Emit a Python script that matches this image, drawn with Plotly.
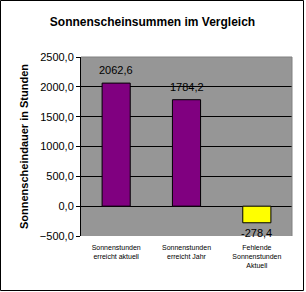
import plotly.graph_objects as go

categories = ["Sonnenstunden<br>erreicht aktuell", "Sonnenstunden<br>erreicht Jahr", "Fehlende<br>Sonnenstunden<br>Aktuell"]
values = [2062.6, 1784.2, -278.4]
colors = ["#800080", "#800080", "#FFFF00"]
value_labels = ["2062,6", "1784,2", "-278,4"]
tick_vals = [-500, 0, 500, 1000, 1500, 2000, 2500]

W, H = 306, 292
L, R, T, B = 81, 14, 57, 56
pw, ph = W - L - R, H - T - B

fig = go.Figure()
fig.add_trace(go.Bar(
    x=categories, y=values,
    marker=dict(color=colors, line=dict(color="#000000", width=1)),
    width=0.4,
))

for c, v, t in zip(categories, values, value_labels):
    fig.add_annotation(x=c, y=v, text=t, showarrow=False,
                       yshift=13 if v >= 0 else -10,
                       font=dict(family="Liberation Sans, Arial", size=11, color="#000000"))

# outer chart border
def px(x):
    return (x - L) / pw
def py(y):
    return (H - B - y) / ph
fig.add_shape(type="rect", xref="paper", yref="paper",
              x0=px(0.5), x1=px(303.5), y0=py(290.5), y1=py(0.5),
              line=dict(color="#000000", width=1), layer="below")
# grey plot-area border (top and right)
fig.add_shape(type="line", xref="paper", yref="paper", x0=0, x1=1, y0=1, y1=1,
              line=dict(color="#808080", width=1))
fig.add_shape(type="line", xref="paper", yref="paper", x0=1, x1=1, y0=0, y1=1,
              line=dict(color="#808080", width=1))

fig.update_layout(
    width=W, height=H,
    margin=dict(l=L, r=R, t=T, b=B),
    paper_bgcolor="#FFFFFF", plot_bgcolor="#969696",
    separators=",.",
    showlegend=False,
    title=dict(text="<b>Sonnenscheinsummen im Vergleich</b>", x=152.5 / W, xref="container", xanchor="center",
               y=1 - 21.5 / H, yanchor="middle",
               font=dict(family="Liberation Sans, Arial", size=12, color="#000000")),
    xaxis=dict(showgrid=False, zeroline=False, showline=False, ticks="",
               ticklabelstandoff=6,
               tickfont=dict(family="Liberation Sans, Arial", size=7, color="#000000")),
    yaxis=dict(range=[-500, 2500], tickvals=tick_vals, tickformat=".1f",
               showgrid=True, gridcolor="#000000", gridwidth=1,
               zeroline=True, zerolinecolor="#000000", zerolinewidth=1,
               showline=True, linecolor="#000000", linewidth=1,
               ticks="outside", ticklen=4, tickcolor="#000000",
               tickfont=dict(family="Liberation Sans, Arial", size=11, color="#000000"),
               title=dict(text="<b>Sonnenscheindauer in Stunden</b>", standoff=8,
                          font=dict(family="Liberation Sans, Arial", size=11, color="#000000"))),
)

fig.write_html("out.html")
